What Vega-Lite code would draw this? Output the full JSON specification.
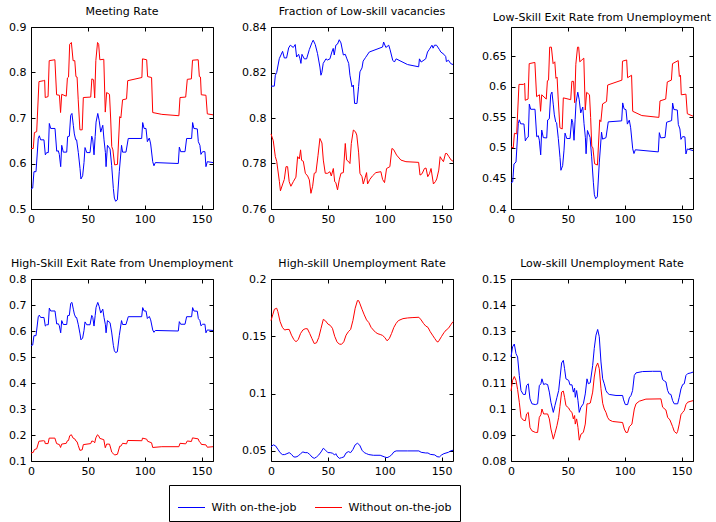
{
"$schema": "https://vega.github.io/schema/vega-lite/v6.json",
"padding": {"left": 8, "top": 5, "right": 5, "bottom": 0},
"background": "white",
"config": {
 "font": "DejaVu Sans",
 "view": {"stroke": "black", "strokeWidth": 1},
 "axis": {"grid": false, "domain": false, "tickColor": "black", "tickSize": -4, "labelPadding": 9, "labelFont": "DejaVu Sans", "labelFontSize": 11, "labelColor": "black", "labelFlush": false, "labelOverlap": false, "labelBound": false, "title": null},
 "axisX": {"labelPadding": 8},
 "title": {"font": "DejaVu Sans", "fontSize": 11, "fontWeight": "normal", "color": "black", "offset": 4, "anchor": "middle"},
 "line": {"strokeWidth": 1},
 "range": {"category": ["#0000ff", "#ff0000"]}
},
"datasets": {
 "b1": [{"t":0,"v":0.544},{"t":1.5,"v":0.546},{"t":2.6,"v":0.582},{"t":4.4,"v":0.582},{"t":6.4,"v":0.655},{"t":7.3,"v":0.661},{"t":8.5,"v":0.652},{"t":11.4,"v":0.652},{"t":12.6,"v":0.619},{"t":13.8,"v":0.624},{"t":15.2,"v":0.624},{"t":16.1,"v":0.688},{"t":17.3,"v":0.677},{"t":21.1,"v":0.677},{"t":22.6,"v":0.627},{"t":24,"v":0.628},{"t":24.9,"v":0.62},{"t":26.1,"v":0.593},{"t":27,"v":0.64},{"t":28.4,"v":0.625},{"t":31.4,"v":0.625},{"t":32.2,"v":0.659},{"t":33.7,"v":0.66},{"t":34.9,"v":0.706},{"t":36,"v":0.71},{"t":37.2,"v":0.684},{"t":38.1,"v":0.665},{"t":39.3,"v":0.652},{"t":40.1,"v":0.652},{"t":41.6,"v":0.624},{"t":43.1,"v":0.589},{"t":43.9,"v":0.566},{"t":45.4,"v":0.573},{"t":46.6,"v":0.602},{"t":47.5,"v":0.635},{"t":49,"v":0.624},{"t":51.9,"v":0.624},{"t":53.4,"v":0.66},{"t":54.3,"v":0.652},{"t":55.4,"v":0.619},{"t":56.4,"v":0.659},{"t":57.2,"v":0.691},{"t":58.7,"v":0.71},{"t":59.9,"v":0.695},{"t":61.3,"v":0.669},{"t":63.1,"v":0.684},{"t":64.2,"v":0.652},{"t":65.4,"v":0.624},{"t":66,"v":0.593},{"t":67.2,"v":0.64},{"t":69.5,"v":0.632},{"t":70.9,"v":0.596},{"t":72.4,"v":0.545},{"t":73.3,"v":0.524},{"t":74.4,"v":0.517},{"t":75.9,"v":0.52},{"t":77.6,"v":0.582},{"t":79.6,"v":0.64},{"t":80.5,"v":0.625},{"t":83.5,"v":0.625},{"t":85.5,"v":0.655},{"t":97.3,"v":0.655},{"t":98.2,"v":0.69},{"t":99.4,"v":0.677},{"t":101.1,"v":0.677},{"t":102.3,"v":0.648},{"t":104,"v":0.656},{"t":105.2,"v":0.643},{"t":107,"v":0.604},{"t":108.1,"v":0.595},{"t":109.3,"v":0.602},{"t":129.5,"v":0.6},{"t":130.4,"v":0.636},{"t":131.6,"v":0.626},{"t":135.4,"v":0.626},{"t":136.8,"v":0.655},{"t":141.2,"v":0.655},{"t":142.1,"v":0.69},{"t":143.2,"v":0.677},{"t":146.2,"v":0.676},{"t":147.1,"v":0.648},{"t":148.5,"v":0.64},{"t":149.4,"v":0.62},{"t":150.9,"v":0.626},{"t":152.9,"v":0.626},{"t":153.8,"v":0.593},{"t":155,"v":0.604},{"t":160,"v":0.602}],
 "r1": [{"t":0,"v":0.633},{"t":2,"v":0.633},{"t":3,"v":0.668},{"t":5,"v":0.67},{"t":7,"v":0.78},{"t":11,"v":0.782},{"t":12,"v":0.783},{"t":12.5,"v":0.745},{"t":15,"v":0.747},{"t":16,"v":0.826},{"t":21,"v":0.828},{"t":22.5,"v":0.751},{"t":25,"v":0.75},{"t":26,"v":0.712},{"t":27,"v":0.752},{"t":31,"v":0.748},{"t":32,"v":0.788},{"t":33,"v":0.79},{"t":34,"v":0.862},{"t":35.5,"v":0.866},{"t":37,"v":0.826},{"t":38.5,"v":0.826},{"t":39.5,"v":0.791},{"t":40.5,"v":0.79},{"t":41.5,"v":0.74},{"t":43,"v":0.674},{"t":45,"v":0.674},{"t":46,"v":0.745},{"t":52.5,"v":0.746},{"t":53.5,"v":0.786},{"t":55,"v":0.784},{"t":56,"v":0.744},{"t":57,"v":0.826},{"t":58.5,"v":0.866},{"t":59.5,"v":0.862},{"t":60.5,"v":0.828},{"t":64,"v":0.829},{"t":65.3,"v":0.713},{"t":66.5,"v":0.756},{"t":69,"v":0.752},{"t":70,"v":0.7},{"t":71,"v":0.637},{"t":72,"v":0.63},{"t":73.5,"v":0.597},{"t":76,"v":0.598},{"t":78,"v":0.703},{"t":79,"v":0.7},{"t":80.5,"v":0.74},{"t":84,"v":0.742},{"t":85,"v":0.782},{"t":97.5,"v":0.789},{"t":98,"v":0.83},{"t":101.7,"v":0.828},{"t":102.5,"v":0.791},{"t":106,"v":0.789},{"t":107,"v":0.712},{"t":115,"v":0.708},{"t":130,"v":0.705},{"t":131,"v":0.745},{"t":136,"v":0.746},{"t":137.4,"v":0.785},{"t":141,"v":0.786},{"t":142,"v":0.827},{"t":147,"v":0.828},{"t":148,"v":0.791},{"t":149,"v":0.79},{"t":149.7,"v":0.751},{"t":153.8,"v":0.75},{"t":155,"v":0.709},{"t":160,"v":0.707}],
 "b2": [{"t":0,"v":0.814},{"t":2.9,"v":0.814},{"t":3.8,"v":0.8188},{"t":5,"v":0.82},{"t":7.3,"v":0.8261},{"t":10.2,"v":0.8293},{"t":11.7,"v":0.8264},{"t":13.7,"v":0.8264},{"t":15.5,"v":0.8308},{"t":17,"v":0.832},{"t":19.6,"v":0.831},{"t":21.3,"v":0.8323},{"t":22.5,"v":0.8268},{"t":24.3,"v":0.828},{"t":25.5,"v":0.826},{"t":26.3,"v":0.824},{"t":27.2,"v":0.828},{"t":29.3,"v":0.826},{"t":31.3,"v":0.826},{"t":33.7,"v":0.8301},{"t":36,"v":0.8331},{"t":37.1,"v":0.8342},{"t":38.9,"v":0.8323},{"t":40.9,"v":0.8283},{"t":43,"v":0.8224},{"t":43.9,"v":0.8188},{"t":44.7,"v":0.82},{"t":45.9,"v":0.824},{"t":48.3,"v":0.826},{"t":49.7,"v":0.8255},{"t":51.8,"v":0.826},{"t":53.5,"v":0.829},{"t":54.7,"v":0.8306},{"t":55.6,"v":0.8277},{"t":57,"v":0.832},{"t":58.5,"v":0.8325},{"t":60,"v":0.8344},{"t":61.5,"v":0.833},{"t":63.6,"v":0.8277},{"t":65.3,"v":0.828},{"t":66.5,"v":0.8263},{"t":68.3,"v":0.824},{"t":69.4,"v":0.8188},{"t":71.2,"v":0.8137},{"t":72.4,"v":0.8145},{"t":73.5,"v":0.8064},{"t":75.6,"v":0.8064},{"t":77,"v":0.8138},{"t":78.2,"v":0.8203},{"t":80,"v":0.822},{"t":81,"v":0.825},{"t":83,"v":0.8265},{"t":86.4,"v":0.829},{"t":98.1,"v":0.8312},{"t":99,"v":0.8334},{"t":101,"v":0.831},{"t":103.5,"v":0.832},{"t":104.7,"v":0.83},{"t":107,"v":0.8254},{"t":108.5,"v":0.8246},{"t":110,"v":0.826},{"t":120,"v":0.8235},{"t":129.8,"v":0.8225},{"t":130.5,"v":0.826},{"t":132,"v":0.8246},{"t":136,"v":0.826},{"t":137.6,"v":0.829},{"t":139,"v":0.83},{"t":141.5,"v":0.832},{"t":142.5,"v":0.8307},{"t":143.7,"v":0.832},{"t":145.5,"v":0.832},{"t":147.9,"v":0.8302},{"t":149.3,"v":0.829},{"t":152,"v":0.828},{"t":153.6,"v":0.827},{"t":154.2,"v":0.8248},{"t":156,"v":0.8254},{"t":158,"v":0.8239},{"t":160,"v":0.8235}],
 "r2": [{"t":0,"v":0.793},{"t":2,"v":0.79},{"t":3.8,"v":0.783},{"t":5,"v":0.781},{"t":7.4,"v":0.772},{"t":8.3,"v":0.768},{"t":10.3,"v":0.771},{"t":11.7,"v":0.773},{"t":13.2,"v":0.7786},{"t":14.6,"v":0.7786},{"t":16,"v":0.772},{"t":17.5,"v":0.77},{"t":19.6,"v":0.772},{"t":21.9,"v":0.774},{"t":23.4,"v":0.783},{"t":24.9,"v":0.782},{"t":26,"v":0.786},{"t":26.9,"v":0.7814},{"t":28.4,"v":0.781},{"t":30.2,"v":0.7757},{"t":32.2,"v":0.7745},{"t":33.7,"v":0.7728},{"t":35.1,"v":0.7669},{"t":36.6,"v":0.77},{"t":38,"v":0.7757},{"t":39.5,"v":0.776},{"t":41.3,"v":0.7834},{"t":43,"v":0.791},{"t":44.8,"v":0.789},{"t":46,"v":0.7815},{"t":47.7,"v":0.7757},{"t":49.8,"v":0.7757},{"t":51.8,"v":0.7764},{"t":53,"v":0.7745},{"t":54.8,"v":0.7778},{"t":56,"v":0.772},{"t":57,"v":0.7716},{"t":58.5,"v":0.7684},{"t":60,"v":0.7728},{"t":61.5,"v":0.7757},{"t":63.6,"v":0.776},{"t":65.3,"v":0.7888},{"t":66.5,"v":0.7815},{"t":68.3,"v":0.7808},{"t":69.4,"v":0.78},{"t":70.6,"v":0.7888},{"t":72.4,"v":0.7947},{"t":74.2,"v":0.794},{"t":75.4,"v":0.7925},{"t":77,"v":0.785},{"t":78.2,"v":0.7757},{"t":80,"v":0.7742},{"t":81.1,"v":0.771},{"t":82.9,"v":0.774},{"t":84,"v":0.776},{"t":84.9,"v":0.771},{"t":86.9,"v":0.773},{"t":89.3,"v":0.7746},{"t":92.2,"v":0.776},{"t":96.6,"v":0.7764},{"t":98.1,"v":0.773},{"t":99.8,"v":0.7716},{"t":101.6,"v":0.7778},{"t":104.5,"v":0.7786},{"t":106.3,"v":0.7866},{"t":107.7,"v":0.7862},{"t":110.4,"v":0.7837},{"t":114.2,"v":0.7815},{"t":118.6,"v":0.7808},{"t":129.8,"v":0.7805},{"t":131,"v":0.7749},{"t":132.8,"v":0.7755},{"t":134.9,"v":0.7778},{"t":136.3,"v":0.778},{"t":137.8,"v":0.7742},{"t":139.3,"v":0.7755},{"t":140.7,"v":0.7778},{"t":142.8,"v":0.771},{"t":144.5,"v":0.772},{"t":145.7,"v":0.7732},{"t":147.5,"v":0.7771},{"t":148.7,"v":0.783},{"t":149.9,"v":0.782},{"t":151.6,"v":0.7808},{"t":153.4,"v":0.7844},{"t":154.6,"v":0.7844},{"t":156.4,"v":0.783},{"t":158.4,"v":0.7815},{"t":160,"v":0.781}],
 "b3": [{"t":0,"v":0.4428},{"t":1.5,"v":0.4444},{"t":2.6,"v":0.4737},{"t":4.4,"v":0.4769},{"t":6.4,"v":0.5397},{"t":7.3,"v":0.546},{"t":8.5,"v":0.5395},{"t":11.4,"v":0.5392},{"t":12.6,"v":0.5115},{"t":13.8,"v":0.5158},{"t":15.2,"v":0.5179},{"t":16.1,"v":0.5717},{"t":17.3,"v":0.5633},{"t":21.1,"v":0.5633},{"t":22.6,"v":0.5184},{"t":24,"v":0.52},{"t":24.9,"v":0.5127},{"t":26.1,"v":0.4886},{"t":27,"v":0.5293},{"t":28.4,"v":0.5169},{"t":31.4,"v":0.5163},{"t":32.2,"v":0.5457},{"t":33.7,"v":0.5478},{"t":34.9,"v":0.5872},{"t":36,"v":0.5915},{"t":37.2,"v":0.5705},{"t":38.1,"v":0.5541},{"t":39.3,"v":0.5425},{"t":40.1,"v":0.5412},{"t":41.6,"v":0.5154},{"t":43.1,"v":0.4842},{"t":43.9,"v":0.4634},{"t":45.4,"v":0.471},{"t":46.6,"v":0.4963},{"t":47.5,"v":0.5242},{"t":49,"v":0.5154},{"t":51.9,"v":0.5154},{"t":53.4,"v":0.5471},{"t":54.3,"v":0.5412},{"t":55.4,"v":0.5125},{"t":56.4,"v":0.547},{"t":57.2,"v":0.5749},{"t":58.7,"v":0.5913},{"t":59.9,"v":0.5798},{"t":61.3,"v":0.5573},{"t":63.1,"v":0.567},{"t":64.2,"v":0.5397},{"t":65.4,"v":0.5167},{"t":66,"v":0.4904},{"t":67.2,"v":0.5286},{"t":69.5,"v":0.5173},{"t":70.9,"v":0.4854},{"t":72.4,"v":0.4439},{"t":73.3,"v":0.4233},{"t":74.4,"v":0.4169},{"t":75.9,"v":0.4199},{"t":77.6,"v":0.4755},{"t":79.6,"v":0.5258},{"t":80.5,"v":0.5144},{"t":83.5,"v":0.5168},{"t":85.5,"v":0.5427},{"t":97.3,"v":0.5443},{"t":98.2,"v":0.5737},{"t":99.4,"v":0.5639},{"t":101.1,"v":0.5626},{"t":102.3,"v":0.539},{"t":104,"v":0.5455},{"t":105.2,"v":0.533},{"t":107,"v":0.4985},{"t":108.1,"v":0.4908},{"t":109.3,"v":0.497},{"t":129.5,"v":0.4935},{"t":130.4,"v":0.525},{"t":131.6,"v":0.5165},{"t":135.4,"v":0.5171},{"t":136.8,"v":0.542},{"t":141.2,"v":0.5448},{"t":142.1,"v":0.5734},{"t":143.2,"v":0.5629},{"t":146.2,"v":0.5621},{"t":147.1,"v":0.5385},{"t":148.5,"v":0.531},{"t":149.4,"v":0.514},{"t":150.9,"v":0.5186},{"t":152.9,"v":0.518},{"t":153.8,"v":0.4901},{"t":155,"v":0.4983},{"t":160,"v":0.4957}],
 "r3": [{"t":0,"v":0.502},{"t":2,"v":0.5},{"t":3,"v":0.524},{"t":5,"v":0.523},{"t":7,"v":0.604},{"t":11,"v":0.604},{"t":12,"v":0.606},{"t":12.5,"v":0.578},{"t":15,"v":0.58},{"t":16,"v":0.638},{"t":21,"v":0.64},{"t":22.5,"v":0.584},{"t":25,"v":0.587},{"t":26,"v":0.56},{"t":27,"v":0.587},{"t":31,"v":0.58},{"t":32,"v":0.61},{"t":33,"v":0.611},{"t":34,"v":0.665},{"t":35.5,"v":0.665},{"t":37,"v":0.638},{"t":38.5,"v":0.641},{"t":39.5,"v":0.614},{"t":40.5,"v":0.616},{"t":41.5,"v":0.58},{"t":43,"v":0.533},{"t":45,"v":0.531},{"t":46,"v":0.582},{"t":52.5,"v":0.579},{"t":53.5,"v":0.609},{"t":55,"v":0.609},{"t":56,"v":0.574},{"t":57,"v":0.637},{"t":58.5,"v":0.665},{"t":59.5,"v":0.665},{"t":60.5,"v":0.641},{"t":64,"v":0.647},{"t":65.3,"v":0.562},{"t":66.5,"v":0.591},{"t":69,"v":0.587},{"t":70,"v":0.55},{"t":71,"v":0.503},{"t":72,"v":0.5},{"t":73.5,"v":0.474},{"t":76,"v":0.472},{"t":78,"v":0.546},{"t":79,"v":0.543},{"t":80.5,"v":0.572},{"t":84,"v":0.576},{"t":85,"v":0.603},{"t":97.5,"v":0.611},{"t":98,"v":0.642},{"t":101.7,"v":0.644},{"t":102.5,"v":0.615},{"t":106,"v":0.619},{"t":107,"v":0.56},{"t":115,"v":0.553},{"t":130,"v":0.55},{"t":131,"v":0.577},{"t":136,"v":0.58},{"t":137.4,"v":0.608},{"t":141,"v":0.611},{"t":142,"v":0.638},{"t":147,"v":0.643},{"t":148,"v":0.617},{"t":149,"v":0.619},{"t":149.7,"v":0.587},{"t":153.8,"v":0.588},{"t":155,"v":0.556},{"t":160,"v":0.552}],
 "r4": [{"t":0,"v":0.131},{"t":2,"v":0.133},{"t":3,"v":0.144},{"t":5,"v":0.147},{"t":7,"v":0.176},{"t":11,"v":0.178},{"t":12,"v":0.177},{"t":12.5,"v":0.167},{"t":15,"v":0.167},{"t":16,"v":0.188},{"t":21,"v":0.188},{"t":22.5,"v":0.167},{"t":25,"v":0.163},{"t":26,"v":0.152},{"t":27,"v":0.165},{"t":31,"v":0.168},{"t":32,"v":0.178},{"t":33,"v":0.179},{"t":34,"v":0.197},{"t":35.5,"v":0.201},{"t":37,"v":0.188},{"t":38.5,"v":0.185},{"t":39.5,"v":0.177},{"t":40.5,"v":0.174},{"t":41.5,"v":0.16},{"t":43,"v":0.141},{"t":45,"v":0.143},{"t":46,"v":0.163},{"t":52.5,"v":0.167},{"t":53.5,"v":0.177},{"t":55,"v":0.175},{"t":56,"v":0.17},{"t":57,"v":0.189},{"t":58.5,"v":0.201},{"t":59.5,"v":0.197},{"t":60.5,"v":0.187},{"t":64,"v":0.182},{"t":65.3,"v":0.151},{"t":66.5,"v":0.165},{"t":69,"v":0.165},{"t":70,"v":0.15},{"t":71,"v":0.134},{"t":72,"v":0.13},{"t":73.5,"v":0.123},{"t":76,"v":0.126},{"t":78,"v":0.157},{"t":79,"v":0.157},{"t":80.5,"v":0.168},{"t":84,"v":0.166},{"t":85,"v":0.179},{"t":97.5,"v":0.178},{"t":98,"v":0.188},{"t":101.7,"v":0.184},{"t":102.5,"v":0.176},{"t":106,"v":0.17},{"t":107,"v":0.152},{"t":115,"v":0.155},{"t":130,"v":0.155},{"t":131,"v":0.168},{"t":136,"v":0.166},{"t":137.4,"v":0.177},{"t":141,"v":0.175},{"t":142,"v":0.189},{"t":147,"v":0.185},{"t":148,"v":0.174},{"t":149,"v":0.171},{"t":149.7,"v":0.164},{"t":153.8,"v":0.162},{"t":155,"v":0.153},{"t":160,"v":0.155}],
 "b5": [{"t":0,"v":0.0535},{"t":2,"v":0.0553},{"t":4,"v":0.0544},{"t":6,"v":0.0515},{"t":8,"v":0.0485},{"t":10,"v":0.0468},{"t":12,"v":0.0468},{"t":14,"v":0.0476},{"t":16,"v":0.0485},{"t":18,"v":0.047},{"t":20,"v":0.0447},{"t":22,"v":0.0447},{"t":24,"v":0.0456},{"t":26,"v":0.0476},{"t":28,"v":0.0491},{"t":30,"v":0.0485},{"t":32,"v":0.0485},{"t":34,"v":0.047},{"t":36,"v":0.0447},{"t":38,"v":0.0435},{"t":40,"v":0.0447},{"t":42,"v":0.0465},{"t":44,"v":0.0491},{"t":46,"v":0.0523},{"t":48,"v":0.0506},{"t":50,"v":0.0485},{"t":52,"v":0.0485},{"t":54,"v":0.048},{"t":56,"v":0.0465},{"t":57,"v":0.0476},{"t":58,"v":0.0456},{"t":60,"v":0.0435},{"t":62,"v":0.0441},{"t":64,"v":0.0447},{"t":66,"v":0.0482},{"t":68,"v":0.0494},{"t":70,"v":0.0485},{"t":72,"v":0.0512},{"t":74,"v":0.0553},{"t":76,"v":0.0567},{"t":78,"v":0.055},{"t":80,"v":0.0506},{"t":82,"v":0.0485},{"t":84,"v":0.0476},{"t":86,"v":0.0468},{"t":90,"v":0.0462},{"t":96,"v":0.0462},{"t":100,"v":0.0447},{"t":102,"v":0.0441},{"t":104,"v":0.045},{"t":106,"v":0.0465},{"t":108,"v":0.0491},{"t":110,"v":0.05},{"t":120,"v":0.05},{"t":130,"v":0.05},{"t":132,"v":0.0488},{"t":136,"v":0.0482},{"t":138,"v":0.0482},{"t":140,"v":0.047},{"t":144,"v":0.0465},{"t":146,"v":0.045},{"t":148,"v":0.0447},{"t":150,"v":0.0465},{"t":152,"v":0.0476},{"t":156,"v":0.0488},{"t":158,"v":0.05},{"t":160,"v":0.0506}],
 "r5": [{"t":0,"v":0.1637},{"t":1.5,"v":0.1687},{"t":3,"v":0.1736},{"t":5,"v":0.1745},{"t":6,"v":0.1716},{"t":8,"v":0.1628},{"t":10,"v":0.1578},{"t":12,"v":0.1555},{"t":14,"v":0.156},{"t":16,"v":0.156},{"t":18,"v":0.151},{"t":20,"v":0.1473},{"t":22,"v":0.1452},{"t":24,"v":0.1473},{"t":26,"v":0.1525},{"t":28,"v":0.1555},{"t":30,"v":0.1566},{"t":32,"v":0.1566},{"t":34,"v":0.1525},{"t":36,"v":0.148},{"t":38,"v":0.1437},{"t":40,"v":0.1443},{"t":42,"v":0.149},{"t":44,"v":0.157},{"t":46,"v":0.1648},{"t":48,"v":0.1634},{"t":50,"v":0.1607},{"t":52,"v":0.1596},{"t":54,"v":0.157},{"t":56,"v":0.15},{"t":58,"v":0.1452},{"t":60,"v":0.1432},{"t":62,"v":0.143},{"t":64,"v":0.1452},{"t":66,"v":0.151},{"t":68,"v":0.154},{"t":70,"v":0.156},{"t":72,"v":0.1637},{"t":74,"v":0.1745},{"t":76,"v":0.1812},{"t":77,"v":0.1812},{"t":78,"v":0.1789},{"t":80,"v":0.1736},{"t":82,"v":0.1687},{"t":84,"v":0.1643},{"t":86,"v":0.162},{"t":88,"v":0.1578},{"t":90,"v":0.1555},{"t":92,"v":0.1534},{"t":94,"v":0.1522},{"t":96,"v":0.1516},{"t":98,"v":0.1508},{"t":100,"v":0.149},{"t":102,"v":0.1461},{"t":104,"v":0.148},{"t":106,"v":0.1525},{"t":108,"v":0.1578},{"t":110,"v":0.1613},{"t":112,"v":0.1637},{"t":116,"v":0.1654},{"t":120,"v":0.166},{"t":124,"v":0.1663},{"t":130,"v":0.1666},{"t":132,"v":0.1643},{"t":134,"v":0.1613},{"t":136,"v":0.159},{"t":138,"v":0.1578},{"t":140,"v":0.154},{"t":142,"v":0.151},{"t":144,"v":0.148},{"t":146,"v":0.1452},{"t":147,"v":0.1452},{"t":148,"v":0.1467},{"t":150,"v":0.15},{"t":152,"v":0.1531},{"t":154,"v":0.1555},{"t":156,"v":0.157},{"t":158,"v":0.16},{"t":160,"v":0.1628}],
 "b6": [{"t":0,"v":0.12},{"t":1.4,"v":0.1239},{"t":2.9,"v":0.125},{"t":4.4,"v":0.1213},{"t":5.8,"v":0.12},{"t":7.3,"v":0.1129},{"t":8.8,"v":0.1071},{"t":10.8,"v":0.1056},{"t":12.6,"v":0.1056},{"t":13.7,"v":0.109},{"t":15.2,"v":0.1097},{"t":16.7,"v":0.1039},{"t":18.4,"v":0.102},{"t":21.4,"v":0.1017},{"t":23.4,"v":0.102},{"t":24.9,"v":0.109},{"t":26.3,"v":0.1097},{"t":27.2,"v":0.1116},{"t":28.7,"v":0.1094},{"t":30.1,"v":0.1097},{"t":32.2,"v":0.1094},{"t":33.7,"v":0.1065},{"t":35.1,"v":0.1026},{"t":37.2,"v":0.0987},{"t":38.6,"v":0.1013},{"t":40.4,"v":0.1045},{"t":41.9,"v":0.1071},{"t":43,"v":0.1116},{"t":44.5,"v":0.1177},{"t":46,"v":0.1187},{"t":47.1,"v":0.1155},{"t":48.3,"v":0.1116},{"t":50.7,"v":0.111},{"t":51.8,"v":0.1093},{"t":53.6,"v":0.1093},{"t":54.8,"v":0.1065},{"t":55.9,"v":0.108},{"t":56.5,"v":0.1045},{"t":57.7,"v":0.1071},{"t":58.9,"v":0.1032},{"t":60,"v":0.0987},{"t":61.5,"v":0.1007},{"t":63.6,"v":0.102},{"t":65.3,"v":0.1058},{"t":66.8,"v":0.1116},{"t":68,"v":0.1097},{"t":69.7,"v":0.1101},{"t":71.8,"v":0.1168},{"t":73.2,"v":0.1233},{"t":74.7,"v":0.1284},{"t":76.2,"v":0.1306},{"t":77.6,"v":0.1278},{"t":79.1,"v":0.1181},{"t":80.6,"v":0.1116},{"t":82,"v":0.1097},{"t":83.5,"v":0.1071},{"t":84.9,"v":0.1061},{"t":86.4,"v":0.1056},{"t":92.3,"v":0.1052},{"t":98.1,"v":0.1052},{"t":99,"v":0.1035},{"t":100.5,"v":0.1017},{"t":102.5,"v":0.1017},{"t":104,"v":0.1043},{"t":105.5,"v":0.1052},{"t":106.9,"v":0.1071},{"t":108.4,"v":0.1129},{"t":109.9,"v":0.1139},{"t":115.7,"v":0.1144},{"t":124.5,"v":0.1145},{"t":131.8,"v":0.1145},{"t":133.3,"v":0.1113},{"t":134.8,"v":0.1108},{"t":136.2,"v":0.1104},{"t":137.7,"v":0.1071},{"t":139.1,"v":0.1058},{"t":140.6,"v":0.1056},{"t":142.1,"v":0.1032},{"t":143.5,"v":0.102},{"t":146.5,"v":0.102},{"t":147.9,"v":0.1045},{"t":149.4,"v":0.1077},{"t":150.9,"v":0.1094},{"t":152.3,"v":0.1097},{"t":153.8,"v":0.1129},{"t":155.3,"v":0.1136},{"t":158.2,"v":0.1139},{"t":160,"v":0.1142}],
 "r6": [{"t":0,"v":0.1069},{"t":1.4,"v":0.111},{"t":2.9,"v":0.1125},{"t":4.4,"v":0.111},{"t":5.8,"v":0.1075},{"t":7.3,"v":0.1026},{"t":8.8,"v":0.0968},{"t":10.8,"v":0.0957},{"t":12.6,"v":0.0955},{"t":13.7,"v":0.0981},{"t":15.2,"v":0.0987},{"t":16.7,"v":0.0929},{"t":18.4,"v":0.0916},{"t":21.4,"v":0.091},{"t":23.4,"v":0.091},{"t":24.9,"v":0.0968},{"t":26.3,"v":0.0978},{"t":27.2,"v":0.1},{"t":28.7,"v":0.0981},{"t":32.2,"v":0.0981},{"t":33.7,"v":0.0962},{"t":35.1,"v":0.0923},{"t":37.2,"v":0.0884},{"t":38.6,"v":0.0906},{"t":40.4,"v":0.0936},{"t":41.9,"v":0.0968},{"t":43,"v":0.1009},{"t":44.5,"v":0.1065},{"t":46,"v":0.1069},{"t":47.1,"v":0.1045},{"t":48.3,"v":0.1013},{"t":50.7,"v":0.1004},{"t":51.8,"v":0.0994},{"t":53.6,"v":0.0987},{"t":54.8,"v":0.0962},{"t":55.9,"v":0.0975},{"t":56.5,"v":0.0942},{"t":57.7,"v":0.0962},{"t":58.9,"v":0.0929},{"t":60,"v":0.088},{"t":61.5,"v":0.0903},{"t":63.6,"v":0.091},{"t":65.3,"v":0.0942},{"t":66.8,"v":0.102},{"t":68,"v":0.102},{"t":69.7,"v":0.1023},{"t":71.8,"v":0.1065},{"t":73.2,"v":0.1123},{"t":74.7,"v":0.1162},{"t":76.2,"v":0.1177},{"t":77.6,"v":0.1155},{"t":79.1,"v":0.1078},{"t":80.6,"v":0.1022},{"t":82,"v":0.1},{"t":83.5,"v":0.0987},{"t":84.9,"v":0.0968},{"t":86.4,"v":0.0958},{"t":89.3,"v":0.0952},{"t":98.1,"v":0.0948},{"t":99.6,"v":0.0923},{"t":101,"v":0.091},{"t":102.5,"v":0.091},{"t":104,"v":0.0932},{"t":106.3,"v":0.0942},{"t":108.4,"v":0.1},{"t":109.9,"v":0.102},{"t":112.8,"v":0.103},{"t":118.6,"v":0.1038},{"t":131.8,"v":0.1039},{"t":133.3,"v":0.1007},{"t":136.2,"v":0.0996},{"t":137.7,"v":0.0968},{"t":139.7,"v":0.0958},{"t":142.1,"v":0.0932},{"t":143.5,"v":0.0914},{"t":145.6,"v":0.0906},{"t":146.5,"v":0.0914},{"t":147.9,"v":0.0942},{"t":149.4,"v":0.0978},{"t":150.9,"v":0.0987},{"t":152.3,"v":0.0994},{"t":153.8,"v":0.1017},{"t":155.3,"v":0.1026},{"t":158.2,"v":0.103},{"t":160,"v":0.1032}]
},
"columns": 3,
"spacing": {"row": 70, "column": 58},
"bounds": "flush",
"resolve": {"scale": {"x": "independent", "y": "independent", "color": "shared"}},
"concat": [
 {"width": 182, "height": 182, "title": "Meeting Rate",
  "layer": [
   {"data": {"name": "b1"}, "mark": {"type": "line", "strokeWidth": 1},
    "encoding": {"x": {"field": "t", "type": "quantitative", "scale": {"domain": [0, 160], "nice": false, "zero": false}, "axis": {"orient": "bottom", "values": [0, 50, 100, 150]}},
     "y": {"field": "v", "type": "quantitative", "scale": {"domain": [0.5, 0.9], "nice": false, "zero": false}, "axis": {"orient": "left", "values": [0.5, 0.6, 0.7, 0.8, 0.9], "format": "~g"}},
     "color": {"datum": "With on-the-job", "type": "nominal", "legend": {"title": null, "orient": "none", "legendX": 138, "legendY": 458, "direction": "horizontal", "columns": 2, "symbolType": "stroke", "symbolSize": 729, "symbolStrokeWidth": 1, "labelFont": "DejaVu Sans", "labelFontSize": 11, "labelColor": "black", "strokeColor": "black", "fillColor": "white", "padding": 8.5, "columnPadding": 16, "labelOffset": 6}}}},
   {"data": {"name": "r1"}, "mark": {"type": "line", "strokeWidth": 1},
    "encoding": {"x": {"field": "t", "type": "quantitative", "axis": {"orient": "top", "labels": false, "values": [0, 50, 100, 150]}},
     "y": {"field": "v", "type": "quantitative", "axis": {"orient": "right", "labels": false, "values": [0.5, 0.6, 0.7, 0.8, 0.9]}},
     "color": {"datum": "Without on-the-job", "type": "nominal"}}}
  ],
  "resolve": {"axis": {"x": "independent", "y": "independent"}}},
 {"width": 182, "height": 182, "title": "Fraction of Low-skill vacancies",
  "layer": [
   {"data": {"name": "b2"}, "mark": {"type": "line", "strokeWidth": 1},
    "encoding": {"x": {"field": "t", "type": "quantitative", "scale": {"domain": [0, 160], "nice": false, "zero": false}, "axis": {"orient": "bottom", "values": [0, 50, 100, 150]}},
     "y": {"field": "v", "type": "quantitative", "scale": {"domain": [0.76, 0.84], "nice": false, "zero": false}, "axis": {"orient": "left", "values": [0.76, 0.78, 0.8, 0.82, 0.84], "format": "~g"}},
     "color": {"datum": "With on-the-job", "type": "nominal"}}},
   {"data": {"name": "r2"}, "mark": {"type": "line", "strokeWidth": 1},
    "encoding": {"x": {"field": "t", "type": "quantitative", "axis": {"orient": "top", "labels": false, "values": [0, 50, 100, 150]}},
     "y": {"field": "v", "type": "quantitative", "axis": {"orient": "right", "labels": false, "values": [0.76, 0.78, 0.8, 0.82, 0.84]}},
     "color": {"datum": "Without on-the-job", "type": "nominal"}}}
  ],
  "resolve": {"axis": {"x": "independent", "y": "independent"}}},
 {"width": 182, "height": 182, "title": "Low-Skill Exit Rate from Unemployment",
  "layer": [
   {"data": {"name": "b3"}, "mark": {"type": "line", "strokeWidth": 1},
    "encoding": {"x": {"field": "t", "type": "quantitative", "scale": {"domain": [0, 160], "nice": false, "zero": false}, "axis": {"orient": "bottom", "values": [0, 50, 100, 150]}},
     "y": {"field": "v", "type": "quantitative", "scale": {"domain": [0.4, 0.698], "nice": false, "zero": false}, "axis": {"orient": "left", "values": [0.4, 0.45, 0.5, 0.55, 0.6, 0.65], "format": "~g"}},
     "color": {"datum": "With on-the-job", "type": "nominal"}}},
   {"data": {"name": "r3"}, "mark": {"type": "line", "strokeWidth": 1},
    "encoding": {"x": {"field": "t", "type": "quantitative", "axis": {"orient": "top", "labels": false, "values": [0, 50, 100, 150]}},
     "y": {"field": "v", "type": "quantitative", "axis": {"orient": "right", "labels": false, "values": [0.4, 0.45, 0.5, 0.55, 0.6, 0.65]}},
     "color": {"datum": "Without on-the-job", "type": "nominal"}}}
  ],
  "resolve": {"axis": {"x": "independent", "y": "independent"}}},
 {"width": 182, "height": 182, "title": "High-Skill Exit Rate from Unemployment",
  "layer": [
   {"data": {"name": "b1"}, "mark": {"type": "line", "strokeWidth": 1},
    "encoding": {"x": {"field": "t", "type": "quantitative", "scale": {"domain": [0, 160], "nice": false, "zero": false}, "axis": {"orient": "bottom", "values": [0, 50, 100, 150]}},
     "y": {"field": "v", "type": "quantitative", "scale": {"domain": [0.1, 0.8], "nice": false, "zero": false}, "axis": {"orient": "left", "values": [0.1, 0.2, 0.3, 0.4, 0.5, 0.6, 0.7, 0.8], "format": "~g"}},
     "color": {"datum": "With on-the-job", "type": "nominal"}}},
   {"data": {"name": "r4"}, "mark": {"type": "line", "strokeWidth": 1},
    "encoding": {"x": {"field": "t", "type": "quantitative", "axis": {"orient": "top", "labels": false, "values": [0, 50, 100, 150]}},
     "y": {"field": "v", "type": "quantitative", "axis": {"orient": "right", "labels": false, "values": [0.1, 0.2, 0.3, 0.4, 0.5, 0.6, 0.7, 0.8]}},
     "color": {"datum": "Without on-the-job", "type": "nominal"}}}
  ],
  "resolve": {"axis": {"x": "independent", "y": "independent"}}},
 {"width": 182, "height": 182, "title": "High-skill Unemployment Rate",
  "layer": [
   {"data": {"name": "b5"}, "mark": {"type": "line", "strokeWidth": 1},
    "encoding": {"x": {"field": "t", "type": "quantitative", "scale": {"domain": [0, 160], "nice": false, "zero": false}, "axis": {"orient": "bottom", "values": [0, 50, 100, 150]}},
     "y": {"field": "v", "type": "quantitative", "scale": {"domain": [0.0412, 0.2], "nice": false, "zero": false}, "axis": {"orient": "left", "values": [0.05, 0.1, 0.15, 0.2], "format": "~g"}},
     "color": {"datum": "With on-the-job", "type": "nominal"}}},
   {"data": {"name": "r5"}, "mark": {"type": "line", "strokeWidth": 1},
    "encoding": {"x": {"field": "t", "type": "quantitative", "axis": {"orient": "top", "labels": false, "values": [0, 50, 100, 150]}},
     "y": {"field": "v", "type": "quantitative", "axis": {"orient": "right", "labels": false, "values": [0.05, 0.1, 0.15, 0.2]}},
     "color": {"datum": "Without on-the-job", "type": "nominal"}}}
  ],
  "resolve": {"axis": {"x": "independent", "y": "independent"}}},
 {"width": 182, "height": 182, "title": "Low-skill Unemployment Rate",
  "layer": [
   {"data": {"name": "b6"}, "mark": {"type": "line", "strokeWidth": 1},
    "encoding": {"x": {"field": "t", "type": "quantitative", "scale": {"domain": [0, 160], "nice": false, "zero": false}, "axis": {"orient": "bottom", "values": [0, 50, 100, 150]}},
     "y": {"field": "v", "type": "quantitative", "scale": {"domain": [0.08, 0.15], "nice": false, "zero": false}, "axis": {"orient": "left", "values": [0.08, 0.09, 0.1, 0.11, 0.12, 0.13, 0.14, 0.15], "format": "~g"}},
     "color": {"datum": "With on-the-job", "type": "nominal"}}},
   {"data": {"name": "r6"}, "mark": {"type": "line", "strokeWidth": 1},
    "encoding": {"x": {"field": "t", "type": "quantitative", "axis": {"orient": "top", "labels": false, "values": [0, 50, 100, 150]}},
     "y": {"field": "v", "type": "quantitative", "axis": {"orient": "right", "labels": false, "values": [0.08, 0.09, 0.1, 0.11, 0.12, 0.13, 0.14, 0.15]}},
     "color": {"datum": "Without on-the-job", "type": "nominal"}}}
  ],
  "resolve": {"axis": {"x": "independent", "y": "independent"}}}
]
}
